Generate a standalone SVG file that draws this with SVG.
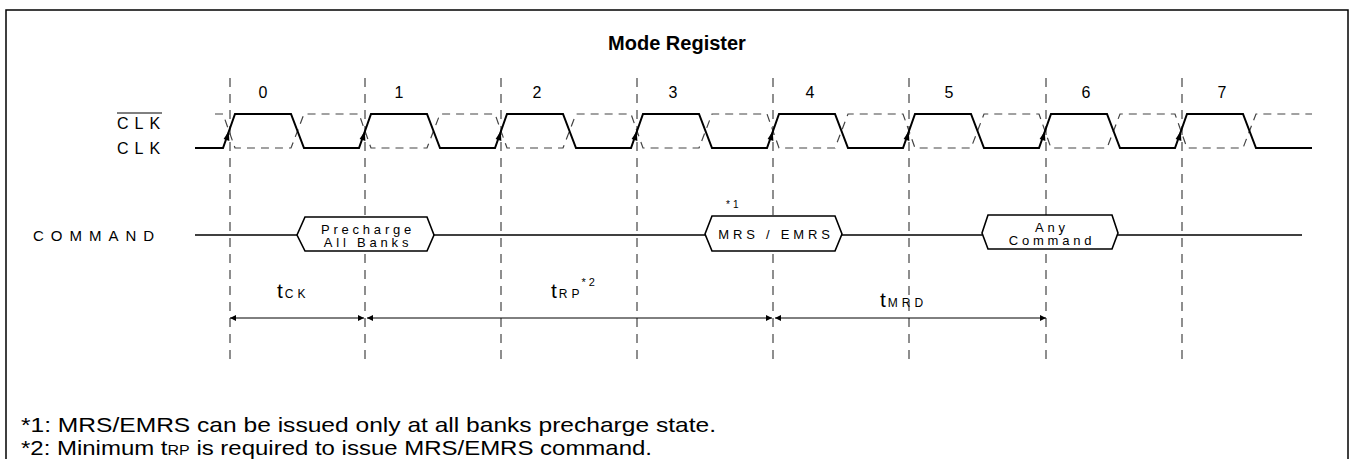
<svg xmlns="http://www.w3.org/2000/svg" width="1354" height="459" viewBox="0 0 1354 459">
<style>
text{font-family:"Liberation Sans",Arial,sans-serif;fill:#000}
.sig{fill:none;stroke:#000;stroke-width:2;stroke-linejoin:miter}
.dash{fill:none;stroke:#444;stroke-width:1.2;stroke-dasharray:8,6}
.vd{fill:none;stroke:#444;stroke-width:1.2;stroke-dasharray:9,7}
.box{fill:#fff;stroke:#000;stroke-width:1.6}
.cmd{fill:none;stroke:#000;stroke-width:1.6}
.tim{fill:none;stroke:#000;stroke-width:1}
.lbl{font-size:16px;letter-spacing:6px}
.num{font-size:16px;text-anchor:middle}
.bx{font-size:13px;letter-spacing:3.8px;text-anchor:middle}
.foot{font-size:21px}
.big{font-size:21px}
.sub{font-size:12px;letter-spacing:4px}
</style>
<defs>
<marker id="ah" viewBox="0 0 10 10" refX="10" refY="5" markerWidth="9" markerHeight="6" markerUnits="userSpaceOnUse" orient="auto-start-reverse">
<path d="M0,0 L10,5 L0,10 z" fill="#000"/>
</marker>
<path id="ra" d="M228.8,131 L229.4,141 L223.6,139 z" fill="#000"/>
</defs>
<rect x="6" y="10" width="1342" height="470" fill="#fff" stroke="#000" stroke-width="1.5"/>
<g id="title"><text x="677" y="50" font-size="20" font-weight="bold" text-anchor="middle">Mode Register</text></g>
<g id="gridlines">
<line class="vd" x1="230" y1="78" x2="230" y2="366"/>
<line class="vd" x1="365" y1="78" x2="365" y2="366"/>
<line class="vd" x1="501" y1="78" x2="501" y2="366"/>
<line class="vd" x1="637" y1="78" x2="637" y2="366"/>
<line class="vd" x1="773" y1="78" x2="773" y2="366"/>
<line class="vd" x1="909" y1="78" x2="909" y2="366"/>
<line class="vd" x1="1046" y1="78" x2="1046" y2="366"/>
<line class="vd" x1="1182" y1="78" x2="1182" y2="366"/>
</g>
<g id="cycle-numbers">
<text class="num" x="263" y="98">0</text>
<text class="num" x="399" y="98">1</text>
<text class="num" x="537" y="98">2</text>
<text class="num" x="673" y="98">3</text>
<text class="num" x="810" y="98">4</text>
<text class="num" x="949" y="98">5</text>
<text class="num" x="1086" y="98">6</text>
<text class="num" x="1222" y="98">7</text>
</g>
<g id="clk-labels">
<text class="lbl" x="117" y="129">CLK</text>
<line x1="117" y1="113" x2="162" y2="113" stroke="#000" stroke-width="1"/>
<text class="lbl" x="117" y="154">CLK</text>
</g>
<g id="clkbar">
<polyline class="dash" points="215,114 223,114 235,148 291,148 304,114 359,114 371,148 427,148 440,114 495,114 507,148 563,148 576,114 631,114 643,148 699,148 712,114 767,114 779,148 835,148 848,114 903,114 915,148 971,148 984,114 1039,114 1051,148 1107,148 1120,114 1175,114 1187,148 1243,148 1256,114 1312,114"/>
</g>
<g id="clk">
<polyline class="sig" points="195,148 223,148 235,114 291,114 304,148 359,148 371,114 427,114 440,148 495,148 507,114 563,114 576,148 631,148 643,114 699,114 712,148 767,148 779,114 835,114 848,148 903,148 915,114 971,114 984,148 1039,148 1051,114 1107,114 1120,148 1175,148 1187,114 1243,114 1256,148 1312,148"/>
<use href="#ra"/>
<use href="#ra" transform="translate(136,0)"/>
<use href="#ra" transform="translate(272,0)"/>
<use href="#ra" transform="translate(408,0)"/>
<use href="#ra" transform="translate(544,0)"/>
<use href="#ra" transform="translate(680,0)"/>
<use href="#ra" transform="translate(816,0)"/>
<use href="#ra" transform="translate(952,0)"/>
</g>
<g id="command-label"><text x="33" y="241" font-size="15" letter-spacing="7">COMMAND</text></g>
<g id="connectors">
<line class="cmd" x1="195" y1="235" x2="297" y2="235"/>
<line class="cmd" x1="434" y1="235" x2="705" y2="235"/>
<line class="cmd" x1="842" y1="235" x2="982" y2="235"/>
<line class="cmd" x1="1118" y1="235" x2="1302" y2="235"/>
<line class="tim" x1="230" y1="318" x2="364" y2="318" marker-start="url(#ah)" marker-end="url(#ah)"/>
<line class="tim" x1="367" y1="318" x2="772" y2="318" marker-start="url(#ah)" marker-end="url(#ah)"/>
<line class="tim" x1="775" y1="318" x2="1046" y2="318" marker-start="url(#ah)" marker-end="url(#ah)"/>
</g>
<g id="precharge">
<polygon class="box" points="297,235 305,217 427,217 434,235 427,251 305,251"/>
<text class="bx" x="368" y="234">Precharge</text>
<text class="bx" x="368" y="247">All Banks</text>
</g>
<g id="mrs">
<polygon class="box" points="705,234 712,216 835,216 842,234 835,251 712,251"/>
<text class="bx" x="776" y="239">MRS / EMRS</text>
<text x="726" y="208" font-size="10" letter-spacing="3">*1</text>
</g>
<g id="anycmd">
<polygon class="box" points="982,233 988,215 1112,215 1118,233 1112,249 988,249"/>
<text class="bx" x="1052" y="232">Any</text>
<text class="bx" x="1052" y="245">Command</text>
</g>
<g id="timing-labels">
<text x="277" y="298" class="big">t<tspan class="sub" dx="2">CK</tspan></text>
<text x="551" y="298" class="big">t<tspan class="sub" dx="2">RP</tspan><tspan font-size="11" dy="-12" dx="-2" letter-spacing="3">*2</tspan></text>
<text x="880" y="307" class="big">t<tspan class="sub" dx="2">MRD</tspan></text>
</g>
<g id="footnotes">
<text class="foot" x="21" y="432" textLength="695" lengthAdjust="spacingAndGlyphs">*1: MRS/EMRS can be issued only at all banks precharge state.</text>
<text class="foot" x="21" y="455" textLength="631" lengthAdjust="spacingAndGlyphs">*2: Minimum t<tspan font-size="14">RP</tspan> is required to issue MRS/EMRS command.</text>
</g>
</svg>
